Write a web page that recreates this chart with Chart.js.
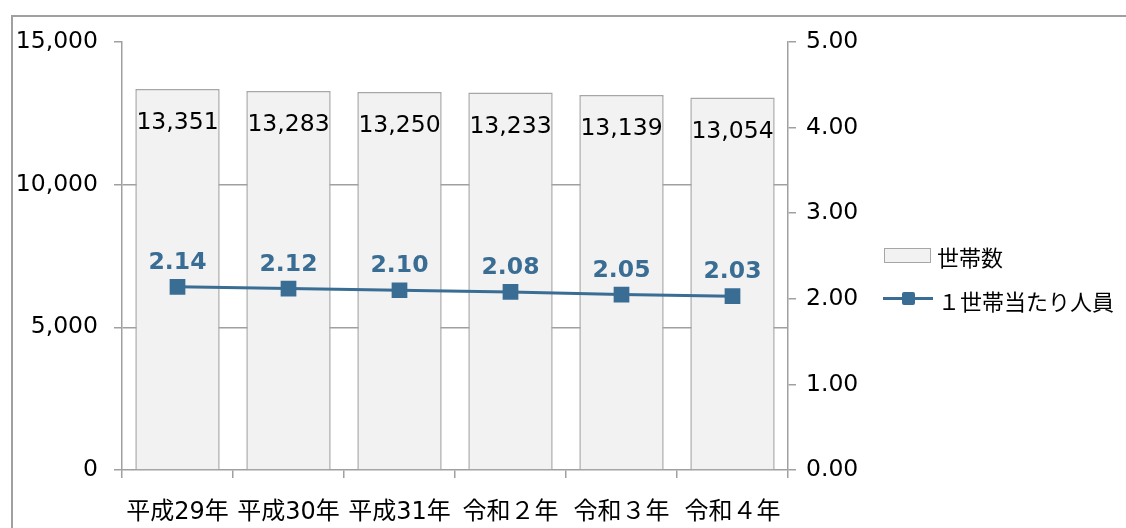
<!DOCTYPE html>
<html>
<head>
<meta charset="utf-8">
<script src="https://cdn.jsdelivr.net/npm/chart.js@4/dist/chart.umd.min.js"></script>
<style>
  body { margin: 0; background: #fff; }
  #wrap { position: relative; width: 1126px; height: 528px; overflow: hidden; }
  #frame { position: absolute; left: 11px; top: 15px; width: 1200px; height: 600px;
           border-top: 2px solid #a0a0a0; border-left: 2px solid #a0a0a0; }
  .leg { position: absolute; font: 22px "DejaVu Sans", "Noto Sans CJK JP", sans-serif; color: #000; white-space: nowrap; }
</style>
</head>
<body>
<div id="wrap">
  <div id="frame"></div>
  <canvas id="chart" width="1126" height="528"></canvas>
  <div style="position:absolute;left:884px;top:248px;width:45px;height:13px;background:#f2f2f2;border:1px solid #a6a6a6;"></div>
  <div class="leg" style="left:937px;top:240px;">世帯数</div>
  <div style="position:absolute;left:883px;top:297px;width:50px;height:3px;background:#3a6d94;"></div>
  <div style="position:absolute;left:902px;top:292px;width:13px;height:13px;border-radius:2px;background:#3a6d94;"></div>
  <div class="leg" style="left:938px;top:284px;">１世帯当たり人員</div>
</div>
<script>
let years = ['平成29年', '平成30年', '平成31年', '令和２年', '令和３年', '令和４年'];
let households = [13351, 13283, 13250, 13233, 13139, 13054];
let perHousehold = [2.14, 2.12, 2.10, 2.08, 2.05, 2.03];
let leftTicks = [0, 5000, 10000, 15000];
let rightTicks = [0, 1, 2, 3, 4, 5];

const FONT = '"DejaVu Sans", "Noto Sans CJK JP", sans-serif';
const GRAY = '#a0a0a0';
const BLUE = '#3a6d94';

// values written on the bars and above the points
const valueLabels = {
    id: 'valueLabels',
    afterDatasetsDraw(chart) {
        let ctx = chart.ctx;
        ctx.save();
        ctx.textAlign = 'center';
        ctx.textBaseline = 'middle';
        chart.getDatasetMeta(1).data.forEach((bar, i) => {
            ctx.font = '23.5px ' + FONT;
            ctx.fillStyle = '#000';
            ctx.fillText(households[i].toLocaleString('en-US'), bar.x, bar.y + 34);
        });
        chart.getDatasetMeta(0).data.forEach((pt, i) => {
            ctx.font = 'bold 23.5px ' + FONT;
            ctx.fillStyle = BLUE;
            ctx.fillText(perHousehold[i].toFixed(2), pt.x, pt.y - 24);
        });
        ctx.restore();
    }
};

var ctx = document.getElementById('chart').getContext('2d');
var myChart = new Chart(ctx, {
    data: {
        labels: years,
        datasets: [{
            type: 'line',
            label: '１世帯当たり人員',
            data: perHousehold,
            yAxisID: 'y2',
            borderColor: BLUE,
            backgroundColor: BLUE,
            borderWidth: 3,
            pointStyle: 'rect',
            pointRadius: 9,
            pointHoverRadius: 9,
            tension: 0
        }, {
            type: 'bar',
            label: '世帯数',
            data: households,
            yAxisID: 'y',
            backgroundColor: '#f2f2f2',
            borderColor: '#a6a6a6',
            borderWidth: 1.5,
            categoryPercentage: 0.76,
            barPercentage: 1
        }]
    },
    options: {
        responsive: false,
        animation: false,
        layout: { padding: { top: 42, left: 0, right: 0, bottom: 0 } },
        plugins: { legend: { display: false }, tooltip: { enabled: false } },
        scales: {
            x: {
                offset: true,
                afterFit: (s) => { s.height = 58; },
                grid: { offset: true, drawOnChartArea: false, tickLength: 8, color: GRAY, lineWidth: 1.5 },
                border: { color: GRAY, width: 1.5 },
                ticks: { color: '#000', font: { family: FONT, size: 24 }, padding: 20, maxRotation: 0 }
            },
            y: {
                position: 'left',
                min: 0, max: 15000,
                afterFit: (s) => { s.width = 122; },
                afterBuildTicks: (s) => { s.ticks = leftTicks.map(v => ({ value: v })); },
                grid: {
                    color: (c) => (c.tick && (c.tick.value === 15000 || c.tick.value === 0)) ? 'rgba(0,0,0,0)' : GRAY,
                    tickColor: GRAY, tickLength: 8, lineWidth: 1.5
                },
                border: { color: GRAY, width: 1.5 },
                ticks: {
                    color: '#000', font: { family: FONT, size: 23.5 }, padding: 16,
                    callback: (v) => v.toLocaleString('en-US')
                }
            },
            y2: {
                position: 'right',
                min: 0, max: 5,
                afterFit: (s) => { s.width = 338; },
                afterBuildTicks: (s) => { s.ticks = rightTicks.map(v => ({ value: v })); },
                grid: { drawOnChartArea: false, color: GRAY, tickLength: 8, lineWidth: 1.5 },
                border: { color: GRAY, width: 1.5 },
                ticks: {
                    color: '#000', font: { family: FONT, size: 23.5 }, padding: 10,
                    callback: (v) => v.toFixed(2)
                }
            }
        }
    },
    plugins: [valueLabels]
});
</script>
</body>
</html>
